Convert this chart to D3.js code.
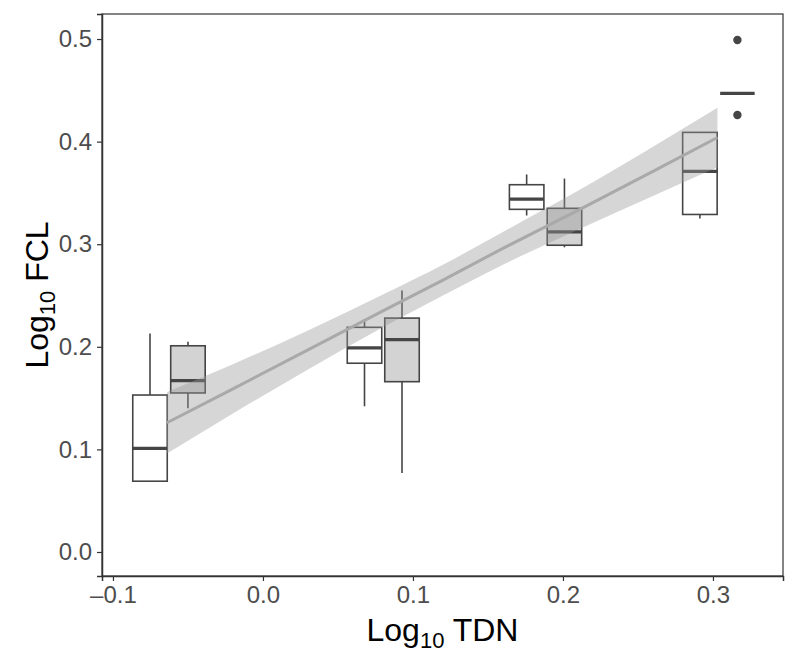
<!DOCTYPE html>
<meta charset="utf-8">
<head>
    <title>Log10 FCL vs Log10 TDN</title>
    <script type="text/javascript" src="https://cdn.jsdelivr.net/npm/d3@7"></script>
    <style>
        body { margin: 0; padding: 0; background: white; }
        text { font-family: "Liberation Sans", Arial, sans-serif; }
    </style>
</head>

<body>
    <script>
        // Box positions (log10 TDN) and their group
        const boxX = [-0.0753, -0.050, 0.0677, 0.0927, 0.1758, 0.2010, 0.2913, 0.3163];
        const boxGroup = ["A", "B", "A", "B", "A", "B", "A", "B"];
        // Five-number summaries (log10 FCL)
        const whiskerLow = [0.069, 0.140, 0.142, 0.077, 0.328, 0.297, 0.325, 0.447];
        const q1 = [0.069, 0.155, 0.184, 0.166, 0.334, 0.299, 0.329, 0.447];
        const median = [0.101, 0.167, 0.199, 0.207, 0.344, 0.312, 0.371, 0.447];
        const q3 = [0.153, 0.201, 0.219, 0.228, 0.358, 0.335, 0.409, 0.447];
        const whiskerHigh = [0.213, 0.205, 0.227, 0.255, 0.368, 0.364, 0.409, 0.447];
        // Outliers: index of the box and the value
        const outlierBox = [7, 7];
        const outlierY = [0.499, 0.426];
        const fitX = [-0.064, -0.02, 0.03, 0.08, 0.12, 0.16, 0.21, 0.26, 0.303];
        const fitY = [0.126, 0.159, 0.197, 0.235, 0.265, 0.296, 0.333, 0.371, 0.404];
        const bandLow = [0.096, 0.135, 0.178, 0.219, 0.250, 0.280, 0.314, 0.347, 0.375];
        const bandHigh = [0.156, 0.183, 0.216, 0.251, 0.280, 0.312, 0.352, 0.395, 0.433];
        // Ticks
        const xTicks = [-0.1, 0.0, 0.1, 0.2, 0.3];
        const yTicks = [0.0, 0.1, 0.2, 0.3, 0.4, 0.5];

        const width = 800, height = 660;
        const margin = ({top: 14, right: 17, bottom: 84, left: 102});

        const svg = d3.select("body")
            .append("svg")
            .attr("width", width)
            .attr("height", height);

        const x = d3.scaleLinear()
            .domain([-0.1073, 0.3467])
            .range([margin.left, width - margin.right]);
        const y = d3.scaleLinear()
            .domain([-0.0234, 0.5244])
            .range([height - margin.bottom, margin.top]);

        const fill = d3.scaleOrdinal()
            .domain(["A", "B"])
            .range(["white", "#d3d3d3"]);

        const boxW = x(0.023) - x(0);
        const ink = "#454545";

        const boxes = boxX.map((bx, i) => ({
            x: bx, group: boxGroup[i], lo: whiskerLow[i], q1: q1[i],
            med: median[i], q3: q3[i], hi: whiskerHigh[i]
        }));

        // Boxplots
        const g = svg.append("g").attr("id", "boxes");
        const box = g.selectAll("g").data(boxes).enter().append("g");

        box.append("line")
            .attr("x1", d => x(d.x)).attr("x2", d => x(d.x))
            .attr("y1", d => y(d.q3)).attr("y2", d => y(d.hi))
            .attr("stroke", ink).attr("stroke-width", 1.6);
        box.append("line")
            .attr("x1", d => x(d.x)).attr("x2", d => x(d.x))
            .attr("y1", d => y(d.q1)).attr("y2", d => y(d.lo))
            .attr("stroke", ink).attr("stroke-width", 1.6);
        box.append("rect")
            .attr("x", d => x(d.x) - boxW / 2)
            .attr("width", boxW)
            .attr("y", d => y(d.q3))
            .attr("height", d => y(d.q1) - y(d.q3))
            .attr("fill", d => fill(d.group))
            .attr("stroke", ink).attr("stroke-width", 1.6);
        box.append("line")
            .attr("x1", d => x(d.x) - boxW / 2).attr("x2", d => x(d.x) + boxW / 2)
            .attr("y1", d => y(d.med)).attr("y2", d => y(d.med))
            .attr("stroke", ink).attr("stroke-width", 3.4);

        g.selectAll("circle")
            .data(outlierY.map((v, i) => ({x: boxX[outlierBox[i]], y: v})))
            .enter().append("circle")
            .attr("cx", d => x(d.x)).attr("cy", d => y(d.y))
            .attr("r", 4.2)
            .attr("fill", ink);

        // Smooth: band + line, drawn over the boxes
        const fit = fitX.map((fx, i) => ({x: fx, y: fitY[i], lo: bandLow[i], hi: bandHigh[i]}));

        svg.append("path")
            .datum(fit)
            .attr("d", d3.area().x(d => x(d.x)).y0(d => y(d.lo)).y1(d => y(d.hi)).curve(d3.curveMonotoneX))
            .attr("fill", "#999999")
            .attr("fill-opacity", 0.4);

        svg.append("path")
            .datum(fit)
            .attr("d", d3.line().x(d => x(d.x)).y(d => y(d.y)))
            .attr("fill", "none")
            .attr("stroke", "#a9a9a9")
            .attr("stroke-width", 3);

        // Panel border
        svg.append("rect")
            .attr("x", margin.left).attr("y", margin.top)
            .attr("width", width - margin.left - margin.right)
            .attr("height", height - margin.top - margin.bottom)
            .attr("fill", "none")
            .attr("stroke", "#333333").attr("stroke-width", 1.2);

        // Axes
        const xAxis = svg.append("g")
            .attr("transform", `translate(0,${height - margin.bottom})`)
            .call(d3.axisBottom(x).tickValues(xTicks).tickSize(5).tickPadding(5)
                .tickFormat(d => d < 0 ? "\u2013" + d3.format(".1f")(-d) : d3.format(".1f")(d)));
        const yAxis = svg.append("g")
            .attr("transform", `translate(${margin.left},0)`)
            .call(d3.axisLeft(y).tickValues(yTicks).tickSize(5).tickPadding(5)
                .tickFormat(d3.format(".1f")));

        [xAxis, yAxis].forEach(a => {
            a.select(".domain").attr("stroke", "#333333").attr("stroke-width", 1.5);
            a.selectAll(".tick line").attr("stroke", "#333333").attr("stroke-width", 1.2);
            a.selectAll(".tick text")
                .attr("fill", "#4d4d4d")
                .style("font-size", "24px")
                .style("font-family", "'Liberation Sans', Arial, sans-serif");
        });

        // Axis titles
        const xt = svg.append("text")
            .attr("x", (margin.left + width - margin.right) / 2)
            .attr("y", 641)
            .attr("text-anchor", "middle")
            .style("font-size", "32px")
            .attr("fill", "black");
        xt.append("tspan").text("Log");
        xt.append("tspan").attr("dy", 7).style("font-size", "22px").text("10");
        xt.append("tspan").attr("dy", -7).text(" TDN");

        const yt = svg.append("text")
            .attr("transform", `translate(48,${(margin.top + height - margin.bottom) / 2}) rotate(-90)`)
            .attr("text-anchor", "middle")
            .style("font-size", "32px")
            .attr("fill", "black");
        yt.append("tspan").text("Log");
        yt.append("tspan").attr("dy", 7).style("font-size", "22px").text("10");
        yt.append("tspan").attr("dy", -7).text(" FCL");
    </script>
</body>
</html>
